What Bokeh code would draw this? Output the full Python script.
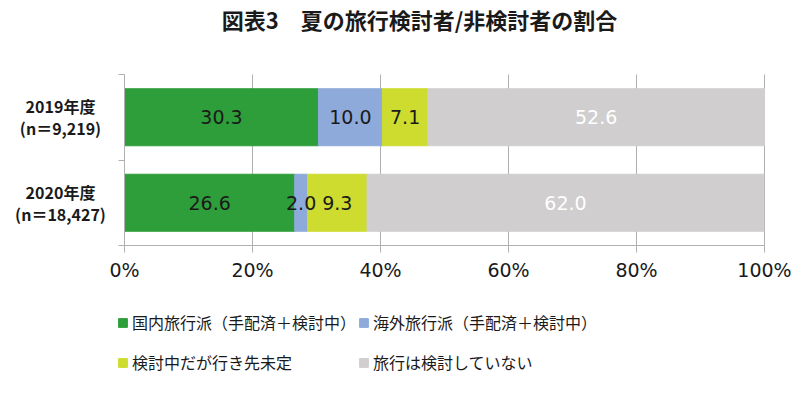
from bokeh.plotting import figure
from bokeh.models import (ColumnDataSource, Legend, LegendItem, FixedTicker, LabelSet, Label,
                          Range1d)
from bokeh.core.properties import value
from bokeh.embed import file_html
from bokeh.resources import INLINE

# ---- data ----
years = ["2019年度", "2020年度"]
sample_sizes = ["(n＝9,219)", "(n＝18,427)"]
series_names = ["国内旅行派（手配済＋検討中）", "海外旅行派（手配済＋検討中）",
                "検討中だが行き先未定", "旅行は検討していない"]
domestic = [30.3, 26.6]
overseas = [10.0, 2.0]
undecided = [7.1, 9.3]
not_considering = [52.6, 62.0]
x_ticks = [0, 20, 40, 60, 80, 100]
x_tick_labels = ["0%", "20%", "40%", "60%", "80%", "100%"]
title_text = "図表3　夏の旅行検討者/非検討者の割合"

colors = ["#2E9E3B", "#8EAADB", "#CDDC2F", "#D0CECE"]
label_colors = ["#1A1A1A", "#1A1A1A", "#1A1A1A", "#FFFFFF"]
series = [domestic, overseas, undecided, not_considering]

n = len(years)
ypos = [n - i - 0.5 for i in range(n)]

# ---- layout (pixels) ----
W, H = 800, 398
PL, PR = 124, 764          # plot-area left / right px
PB, ROW = 245, 85.5        # plot-area bottom px, px per category
xs = 100.0 / (PR - PL)     # data units per px
x_range = Range1d(-PL * xs, (W - PL) * xs)
y_range = Range1d(-(H - PB) / ROW, PB / ROW)

p = figure(width=W, height=H, output_backend="svg", toolbar_location=None,
           x_range=x_range, y_range=y_range,
           min_border=0, min_border_left=0, min_border_right=0,
           min_border_top=0, min_border_bottom=0)
p.outline_line_color = None

renderers = []
left = [0.0] * n
for k, vals in enumerate(series):
    right = [l + v for l, v in zip(left, vals)]
    mid = [(l + r) / 2 for l, r in zip(left, right)]
    src = ColumnDataSource(dict(y=ypos, left=left, right=right, mid=mid,
                                txt=["%.1f" % v for v in vals]))
    r = p.hbar(y="y", left="left", right="right", height=0.667, source=src,
               fill_color=colors[k], line_color=colors[k])
    renderers.append(r)
    p.add_layout(LabelSet(x="mid", y="y", text="txt", source=src,
                          text_align="center", text_baseline="middle",
                          text_font=value("DejaVu Sans"), text_font_size=value("19px"),
                          text_color=value(label_colors[k])))
    left = right

# axes (drawn at data 0, limited to the plot area)
grid_c = "#B0B0B0"
xa = p.xaxis[0]
xa.fixed_location = 0
xa.bounds = (x_ticks[0], x_ticks[-1])
xa.ticker = FixedTicker(ticks=x_ticks)
xa.major_label_overrides = {t: l for t, l in zip(x_ticks, x_tick_labels)}
xa.major_label_text_font = "DejaVu Sans"
xa.major_label_text_font_size = "19px"
xa.major_label_text_color = "#1A1A1A"
xa.major_label_standoff = 6
xa.axis_line_color = grid_c
xa.major_tick_line_color = grid_c
xa.major_tick_out = 7
xa.major_tick_in = 0
xa.minor_tick_line_color = None

ya = p.yaxis[0]
ya.fixed_location = 0
ya.bounds = (0, n)
ya.ticker = FixedTicker(ticks=list(range(n + 1)))
ya.major_label_overrides = {i: "" for i in range(n + 1)}
ya.axis_line_color = grid_c
ya.major_tick_line_color = grid_c
ya.major_tick_out = 6
ya.major_tick_in = 0
ya.minor_tick_line_color = None

p.xgrid.ticker = FixedTicker(ticks=x_ticks[1:])
p.xgrid.grid_line_color = grid_c
p.xgrid.cross_bounds = (0, n)
p.ygrid.grid_line_color = None

# category labels (two lines each)
for yr, ns, y in zip(years, sample_sizes, ypos):
    for txt, dy in ((yr, 0.13), (ns, -0.13)):
        p.add_layout(Label(x=(60 - PL) * xs, y=y + dy, text=txt, text_align="center",
                           text_baseline="middle", text_font="Noto Sans CJK JP",
                           text_font_style="bold", text_font_size="16px",
                           text_color="#1A1A1A"))

# title
p.add_layout(Label(x=(419 - PL) * xs, y=(PB - 18) / ROW, text=title_text, text_align="center",
                   text_baseline="middle", text_font="Noto Sans CJK JP",
                   text_font_style="bold", text_font_size="22px", text_color="#1A1A1A"))

# legend (row-major order: 2 columns)
order = [0, 2, 1, 3]
legend = Legend(items=[LegendItem(label=series_names[i], renderers=[renderers[i]]) for i in order],
                ncols=2, location=(117, 17), glyph_width=11, glyph_height=11,
                label_standoff=4, label_height=38, spacing=2, padding=0, margin=0,
                border_line_color=None, background_fill_alpha=0,
                label_text_font="Noto Sans CJK JP", label_text_font_size="16px",
                label_text_color="#1A1A1A")
p.add_layout(legend)

open("out.html", "w").write(file_html(p, INLINE))
